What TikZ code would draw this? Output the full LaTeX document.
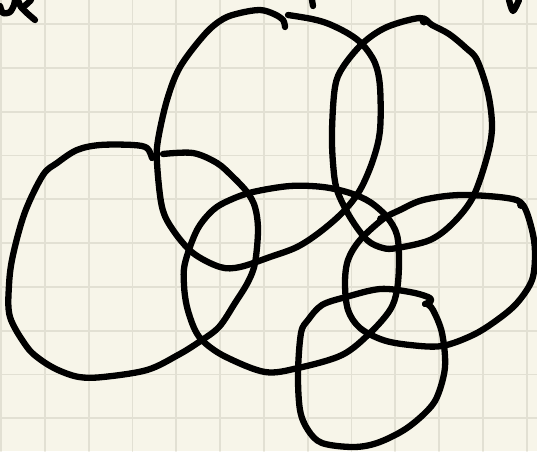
\documentclass[tikz,border=0pt]{standalone}
\usepackage{tikz}
\definecolor{skPaper}{HTML}{F7F5E9}
\definecolor{skGrid}{HTML}{E2E0D3}
\definecolor{skInk}{HTML}{000000}
\tikzset{
  sk sketch/.style={x=1pt, y=-1pt, line cap=round, line join=round},
  sk grid/.style={draw=skGrid, line width=1.8pt},
  sk stroke/.style={draw=skInk, line width=6.3pt},
  sk loop/.style={sk stroke, smooth cycle, tension=0.55},
  sk open/.style={sk stroke, smooth, tension=0.55}
}
\begin{document}
\begin{tikzpicture}[sk sketch]
\useasboundingbox (0,0) rectangle (537,451);
\fill[skPaper] (0,0) rectangle (537,451);
% squared paper
\foreach \k in {0,...,12}
  \draw[sk grid] ({1+43.8*\k},0) -- ({1+43.8*\k},451);
\foreach \k in {0,...,9}
  \draw[sk grid] (0,{24+43.8*\k}) -- (537,{24+43.8*\k});
% scraps of writing cut off at the top edge
\draw[sk stroke] plot[smooth] coordinates {(0,6) (3,13) (10,12) (14,5) (15,0)};
\draw[sk stroke] plot[smooth] coordinates {(18,0) (21,7) (28,14) (35,20)};
\draw[sk stroke] plot[smooth] coordinates {(22,8) (28,3) (31,0)};
\draw[sk stroke] (312,0) -- (313,6);
\draw[sk stroke] plot[smooth] coordinates {(509,0) (513,11) (519,0)};
% left loop
\draw[sk open] plot coordinates {(152,158) (147,148) (133,145) (100,145) (77,150) (57,163)
  (43,175) (25,212) (13,255) (9,285) (10,317) (27,347) (41,360) (58,370) (79,377)
  (103,377) (147,370) (178,355) (199,342) (219,327) (235,303) (248,282) (255,263)
  (258,230) (255,207) (247,192) (233,177) (217,163) (193,153) (163,154)};
% tall loop
\draw[sk open] plot coordinates {(288,15) (312,19) (329,24) (349,34) (363,45) (375,63)
  (380,87) (380,130) (373,160) (360,190) (343,212) (320,232) (297,247) (270,257)
  (240,267) (220,267) (193,253) (173,230) (162,207) (157,163) (158,140) (167,100)
  (180,67) (205,34) (223,19) (240,13) (260,10) (274,14) (283,20) (285,27)};
% upper right loop
\draw[sk loop] plot coordinates {(420,18) (432,25) (449,34) (466,48) (477,60) (488,93)
  (492,127) (487,157) (473,197) (453,223) (430,240) (397,248) (383,248) (367,240)
  (350,217) (337,190) (333,163) (332,130) (335,87) (343,67) (363,43) (387,27)};
\fill[skInk] (424,21) circle (4.5);
% middle loop
\draw[sk loop] plot coordinates {(185,263) (197,230) (213,210) (230,200) (253,192)
  (290,186) (323,187) (350,193) (370,202) (387,217) (397,235) (399,262) (397,290)
  (390,310) (370,333) (342,355) (298,368) (265,372) (226,357) (205,343) (195,330)
  (187,307) (184,285)};
% right loop
\draw[sk loop] plot coordinates {(383,219) (400,210) (423,200) (460,195) (507,198)
  (523,205) (532,230) (535,253) (532,280) (517,303) (497,320) (473,335) (442,346)
  (410,345) (383,340) (360,328) (348,310) (345,283) (348,260) (360,240)};
\fill[skInk] (521,205) circle (4);
\fill[skInk] (381,219) circle (4);
% bottom loop
\draw[sk open] plot coordinates {(425,304) (431,301) (428,297) (410,292) (380,289)
  (346,297) (322,305) (308,320) (301,333) (298,373) (300,410) (308,430) (322,443)
  (353,447) (377,443) (404,430) (425,413) (437,397) (445,367) (442,333) (433,310)
  (427,304)};
\end{tikzpicture}
\end{document}
